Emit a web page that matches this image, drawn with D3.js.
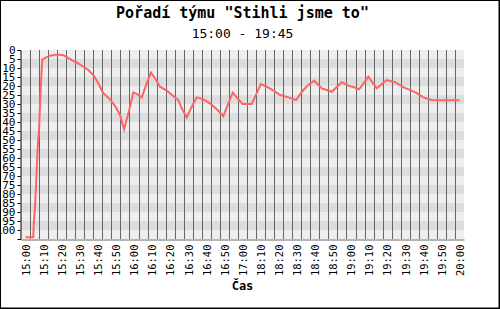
<!DOCTYPE html>
<html lang="cs">
<head>
    <meta charset="UTF-8">
    <title>Pořadí týmu</title>
    <script src="https://d3js.org/d3.v7.min.js"></script>
    <style>
      body { margin: 0; background: #fff; }
      text { font-family: "DejaVu Sans Mono", monospace; fill: #000; }
    </style>
</head>
<body>
  <div class="graph_container"></div>

    <script type="text/javascript">
        // minutes from the start (15:00) and team rank at that moment
        var minutes = [0, 4.3, 4.5, 5.25, 5.8, 6.7, 7.5, 8.4, 9, 9.3,
            11.7, 13.6, 16.3, 19.1, 20.9, 22.8, 25.6, 29.2, 32, 34.7,
            37.5, 39.4, 41.2, 43, 46.7, 49.5, 52.3, 54.5, 56.9, 59.6,
            61.5, 64.3, 67, 69.4, 71.6, 74.4, 78.1, 81.7, 84.5, 86.4,
            89.2, 91.9, 94.7, 98.3, 102, 105.8, 109.4, 112.2, 114.6, 116.8,
            120.1, 125.1, 127.9, 130.1, 133.4, 137.1, 140.8, 145.4, 149.6, 153.7,
            156.4, 159.7, 163.8, 166.6, 169.4, 174.9, 178.5, 181.7, 184.5, 189.6,
            194.2, 199.8, 204.4, 209.4, 213.6, 216.4, 220, 224.7, 229.3, 240]
        var rank = [104, 104, 98, 87, 76, 54.6, 43.5, 21.3, 10.2, 5.2,
            4, 3.2, 2.6, 2.6, 2.9, 4, 5.6, 7.4, 9.3, 11.1,
            13.9, 17, 20.4, 24, 27.4, 31.1, 36.1, 44, 35.2, 23.7,
            24.4, 26.3, 18.5, 12.6, 15.7, 20.4, 22.6, 25.6, 27.8, 32.4,
            37.4, 31.5, 26.3, 27.4, 29.6, 32.9, 36.7, 29.6, 23.7, 26.3,
            30, 30, 24, 18.9, 20.4, 22.6, 25, 26.3, 27.8, 22.2,
            19.4, 17, 21.3, 22.2, 23.2, 17.9, 19.8, 20.7, 21.8, 14.8,
            21.3, 16.7, 17.9, 20.9, 22.6, 24, 26.3, 27.8, 27.9, 27.9]

        var tickLabels = ["15:00", "15:10", "15:20", "15:30", "15:40", "15:50",
            "16:00", "16:10", "16:20", "16:30", "16:40", "16:50", "17:00",
            "18:10", "18:20", "18:30", "18:40", "18:50", "19:00", "19:10",
            "19:20", "19:30", "19:40", "19:50", "20:00"]
        var rankTicks = d3.range(0, 101, 5)

        var values = minutes.map(function(m, i) { return {m: m, r: rank[i]} })

        var w = 500
        var h = 309
        var plotL = 21, plotR = 464, plotT = 50, plotB = 239

        var xScale = d3.scaleLinear().domain([-2.5, 242.5]).range([plotL, plotR])
        var yScale = d3.scaleLinear().domain([0, 105]).range([plotT, plotB])

        var svg = d3.select(".graph_container").append("svg")
            .attr("width", w).attr("height", h)

        svg.append("rect").attr("width", w).attr("height", h).attr("fill", "#fff")

        // alternating bands
        svg.selectAll("rect.band")
            .data(d3.range(0, 105, 5))
            .enter()
            .append("rect")
            .attr("class", "band")
            .attr("x", plotL)
            .attr("y", function(d) { return yScale(d) })
            .attr("width", plotR - plotL)
            .attr("height", function(d) { return yScale(d + 5) - yScale(d) })
            .attr("fill", function(d, i) { return i % 2 ? "#dddddd" : "#eeeeee" })

        // vertical grid every 5 minutes
        svg.selectAll("line.grid")
            .data(d3.range(2.5, 240, 5))
            .enter()
            .append("line")
            .attr("class", "grid")
            .attr("x1", function(d) { return Math.round(xScale(d)) + 0.5 })
            .attr("x2", function(d) { return Math.round(xScale(d)) + 0.5 })
            .attr("y1", plotT)
            .attr("y2", plotB)
            .attr("stroke", "#666")
            .attr("stroke-width", 1)

        // y axis
        var yAxis = d3.axisLeft(yScale).tickValues(rankTicks).tickSize(3).tickPadding(2)
        var gy = svg.append("g").attr("transform", "translate(" + (plotL - 0.5) + ",0)").call(yAxis)
        gy.select(".domain").attr("stroke", "#000")
        gy.selectAll("line").attr("stroke", "#000")
        gy.selectAll("text").style("font-size", "11px").style("font-family", "DejaVu Sans Mono")
            .attr("dy", "0.36em")

        // x axis
        var xAxis = d3.axisBottom(xScale)
            .tickValues(d3.range(0, 241, 10))
            .tickFormat(function(d, i) { return tickLabels[i] })
            .tickSize(0)
        var gx = svg.append("g").attr("transform", "translate(0," + (plotB + 0.5) + ")").call(xAxis)
        gx.select(".domain").attr("stroke", "#666")
        gx.selectAll("text")
            .style("font-size", "10.5px").style("font-family", "DejaVu Sans Mono")
            .attr("text-anchor", "end")
            .attr("transform", "translate(0,5) rotate(-90)")
            .attr("x", 0).attr("y", 0).attr("dy", "0.36em")

        // rank line
        var line = d3.line()
            .x(function(d) { return xScale(d.m) })
            .y(function(d) { return yScale(d.r) })

        svg.append("path")
            .datum(values)
            .attr("d", line)
            .attr("fill", "none")
            .attr("stroke", "#ff6464")
            .attr("stroke-width", 2)

        // titles
        var cx = (plotL + plotR) / 2
        svg.append("text").attr("x", cx).attr("y", 18).attr("text-anchor", "middle")
            .style("font-size", "15px").style("font-weight", "bold")
            .text("Pořadí týmu \"Stihli jsme to\"")
        svg.append("text").attr("x", cx).attr("y", 38).attr("text-anchor", "middle")
            .style("font-size", "13px")
            .text("15:00 - 19:45")
        svg.append("text").attr("x", cx).attr("y", 290).attr("text-anchor", "middle")
            .style("font-size", "12px").style("font-weight", "bold")
            .text("Čas")

        // frame
        svg.append("rect").attr("x", 0.5).attr("y", 0.5).attr("width", w - 1.5).attr("height", h - 1.5)
            .attr("fill", "none").attr("stroke", "#000").attr("stroke-width", 1)
        svg.append("path").attr("d", "M" + (w - 0.5) + ",0V" + h + "M0," + (h - 0.5) + "H" + w)
            .attr("stroke", "#000").attr("stroke-width", 1)
    </script>
</body>
</html>
